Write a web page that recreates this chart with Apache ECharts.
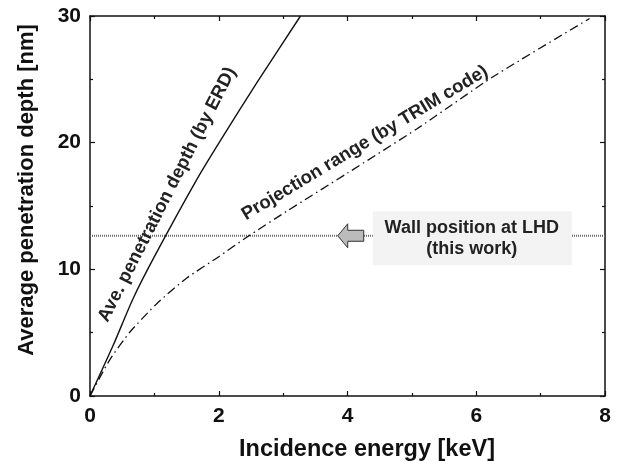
<!DOCTYPE html>
<html><head><meta charset="utf-8">
<script src="https://cdn.jsdelivr.net/npm/echarts@6/dist/echarts.min.js"></script>
<style>html,body{margin:0;padding:0;background:#fff}#c{width:619px;height:461px}</style>
</head><body><div id="c"></div>
<script>
// Data
const erdEnergy = [0, 0.36, 0.67, 1.0, 1.66, 2.03, 2.6, 3.27];
const erdDepth  = [0, 4.0, 7.7, 11.0, 17.1, 20.2, 24.8, 30.0];
const trimEnergy = [0, 0.3, 0.62, 1.06, 1.5, 2.0, 2.44, 3.06, 4.0, 5.08, 6.26, 7.76];
const trimDepth  = [0, 2.8, 5.05, 7.4, 9.3, 11.0, 12.55, 14.6, 17.6, 21.1, 25.2, 29.8];
const wallDepth = 12.65;
const xTicks = [0, 2, 4, 6, 8];
const yTicks = [0, 10, 20, 30];
const labelErd = 'Ave. penetration depth (by ERD)';
const labelTrim = 'Projection range (by TRIM code)';
const wallText = 'Wall position at LHD\n(this work)';

const FONT = '"Liberation Sans", Arial, sans-serif';
const chart = echarts.init(document.getElementById('c'));
const zip = (a, b) => a.map((v, i) => [v, b[i]]);

const axisCommon = {
  axisLine: {show: true, onZero: false, lineStyle: {color: '#111', width: 1.5}},
  axisTick: {show: true, inside: true, length: 5, lineStyle: {color: '#111', width: 1.2}},
  minorTick: {show: true, splitNumber: 2, length: 3, lineStyle: {color: '#111', width: 1.2}},
  splitLine: {show: false}
};

chart.setOption({
  animation: false,
  grid: {left: 90, right: 14, top: 16, bottom: 65, containLabel: false, outerBoundsMode: 'none'},
  xAxis: [
    Object.assign({type: 'value', min: 0, max: 8, interval: 2, position: 'bottom',
      name: 'Incidence energy [keV]', nameLocation: 'middle', nameGap: 42,
      nameTextStyle: {fontFamily: FONT, fontWeight: 'bold', fontSize: 23.5, color: '#111', padding: [0, 0, 0, 39]},
      axisLabel: {fontFamily: FONT, fontWeight: 'bold', fontSize: 21, color: '#111', margin: 10,
        formatter: v => xTicks.includes(v) ? String(v) : ''}}, axisCommon),
    Object.assign({type: 'value', min: 0, max: 8, interval: 2, position: 'top',
      axisLabel: {show: false}}, axisCommon)
  ],
  yAxis: [
    Object.assign({type: 'value', min: 0, max: 30, interval: 10, position: 'left',
      name: 'Average penetration depth [nm]', nameLocation: 'middle', nameGap: 52,
      nameTextStyle: {fontFamily: FONT, fontWeight: 'bold', fontSize: 22, color: '#111', padding: [0, 0, 0, 32]},
      axisLabel: {fontFamily: FONT, fontWeight: 'bold', fontSize: 21, color: '#111', margin: 9,
        formatter: v => yTicks.includes(v) ? String(v) : ''}}, axisCommon),
    Object.assign({type: 'value', min: 0, max: 30, interval: 10, position: 'right',
      axisLabel: {show: false}}, axisCommon)
  ],
  series: [
    {type: 'line', data: [[0, wallDepth], [8, wallDepth]], symbol: 'none', z: 1,
      lineStyle: {color: '#666', width: 2, type: [1, 1]}},
    {type: 'line', data: zip(erdEnergy, erdDepth), symbol: 'none', smooth: 0.25,
      lineStyle: {color: '#111', width: 1.4}},
    {type: 'line', data: zip(trimEnergy, trimDepth), symbol: 'none', smooth: 0.2,
      lineStyle: {color: '#111', width: 1.3, type: [9, 4, 1.5, 4]}}
  ]
});

function px(x, y) { return chart.convertToPixel({gridIndex: 0}, [x, y]); }
const pErd = px(1.2, 15.9);
const pTrim = px(4.27, 19.97);
const pBox = px(5.93, 12.45);
const pArrow = px(4.05, wallDepth);
const txt = {fontFamily: FONT, fontWeight: 'bold', fill: '#222'};

chart.setOption({graphic: [
  {type: 'text', x: pErd[0], y: pErd[1], rotation: 63 * Math.PI / 180, z: 50,
    style: Object.assign({text: labelErd, fontSize: 18.5, align: 'center', verticalAlign: 'middle'}, txt)},
  {type: 'text', x: pTrim[0], y: pTrim[1], rotation: 31 * Math.PI / 180, z: 50,
    style: Object.assign({text: labelTrim, fontSize: 18.5, align: 'center', verticalAlign: 'middle'}, txt)},
  {type: 'rect', x: pBox[0] - 99, y: pBox[1] - 27, z: 50,
    shape: {width: 199, height: 54}, style: {fill: '#f3f3f3'}},
  {type: 'text', x: pBox[0], y: pBox[1], z: 51,
    style: Object.assign({text: wallText, fontSize: 18, lineHeight: 21, align: 'center', verticalAlign: 'middle'}, txt)},
  {type: 'polygon', x: pArrow[0], y: pArrow[1], z: 51,
    shape: {points: [[-13, 0], [-3, -12], [-3, -5.5], [13, -5.5], [13, 5.5], [-3, 5.5], [-3, 12]]},
    style: {fill: '#bbb', stroke: '#333', lineWidth: 1}}
]});
</script></body></html>
